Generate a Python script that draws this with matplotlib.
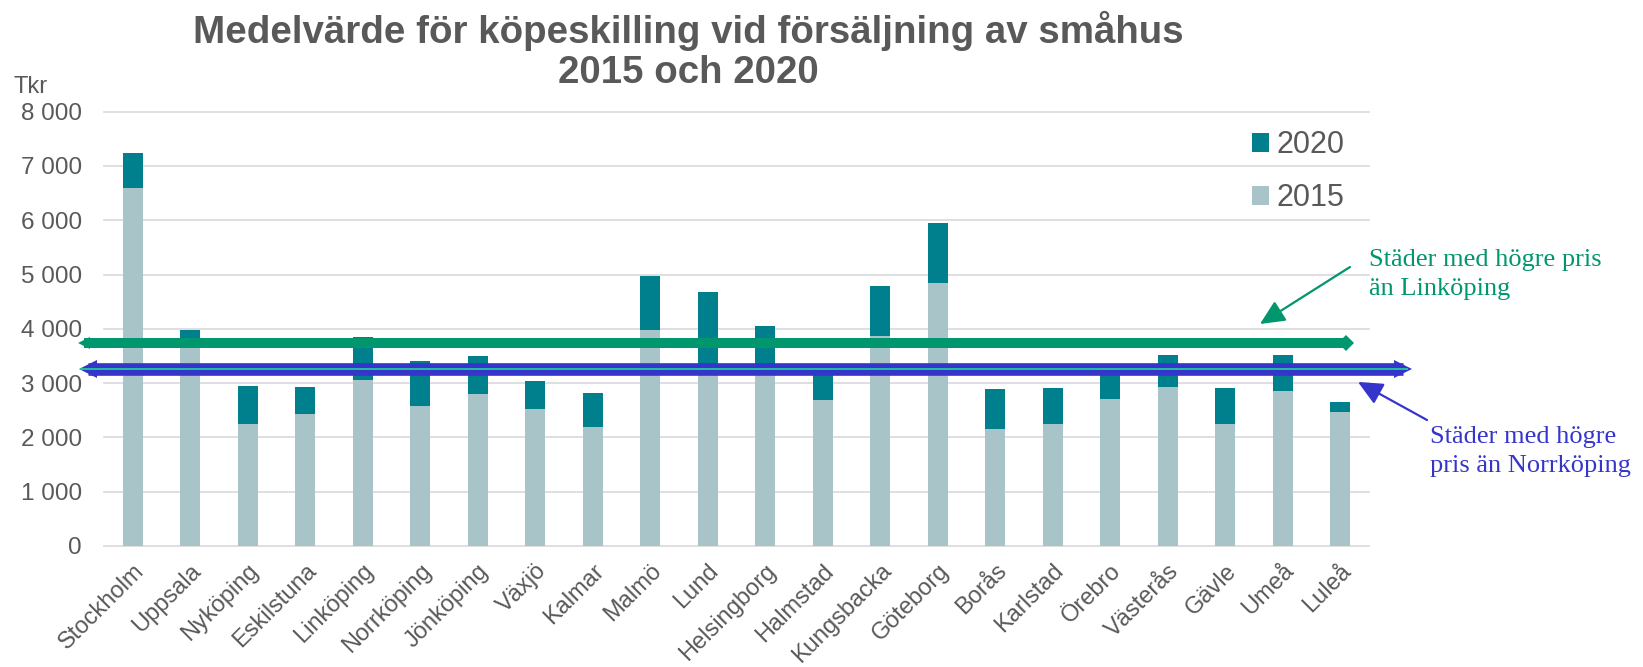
import matplotlib
matplotlib.use('Agg')
import matplotlib.pyplot as plt
import matplotlib.transforms as mtransforms
import numpy as np

# ---------------- data ----------------
cities = ['Stockholm', 'Uppsala', 'Nyköping', 'Eskilstuna', 'Linköping', 'Norrköping',
          'Jönköping', 'Växjö', 'Kalmar', 'Malmö', 'Lund', 'Helsingborg', 'Halmstad',
          'Kungsbacka', 'Göteborg', 'Borås', 'Karlstad', 'Örebro', 'Västerås', 'Gävle',
          'Umeå', 'Luleå']
price_2015 = [6594, 3750, 2241, 2437, 3058, 2585, 2806, 2530, 2192, 3985, 3280, 3280,
              2684, 3868, 4838, 2155, 2241, 2708, 2935, 2253, 2861, 2468]
price_2020 = [7245, 3973, 2947, 2929, 3844, 3408, 3500, 3039, 2818, 4967, 4679, 4058,
              3260, 4789, 5955, 2886, 2916, 3230, 3518, 2904, 3512, 2658]
yticks = [0, 1000, 2000, 3000, 4000, 5000, 6000, 7000, 8000]
ytick_labels = ['0', '1 000', '2 000', '3 000', '4 000', '5 000', '6 000', '7 000', '8 000']
linkoping_level = 3740
norrkoping_level = 3260

title = 'Medelvärde för köpeskilling vid försäljning av småhus\n2015 och 2020'
unit_label = 'Tkr'
note_green = 'Städer med högre pris\nän Linköping'
note_blue = 'Städer med högre\npris än Norrköping'

# ---------------- style ----------------
C2015 = '#A8C4C9'
C2020 = '#00808C'
GREEN = '#00966E'
BLUE = '#3535CC'
CYAN = '#1FC0A0'
GRAY = '#595959'
GRID = '#D9D9D9'

plt.rcParams['font.family'] = ['Liberation Sans', 'DejaVu Sans']

W, H = 1643, 667
fig = plt.figure(figsize=(W / 100, H / 100), dpi=100)
L, R, T, B = 104, 1369, 111.7, 546
ax = fig.add_axes([L / W, 1 - B / H, (R - L) / W, (B - T) / H])
axw = R - L

x = np.arange(len(cities))
p15 = np.array(price_2015)
p20 = np.array(price_2020)
b15 = ax.bar(x, p15, width=0.35, color=C2015, zorder=2, label='2015')
b20 = ax.bar(x, p20 - p15, bottom=p15, width=0.35, color=C2020, zorder=2, label='2020')

ax.set_xlim(-0.5, len(cities) - 0.5)
ax.set_ylim(0, 8000)
ax.set_yticks(yticks)
ax.set_yticklabels(ytick_labels, fontsize=17.5, color=GRAY)
ax.set_xticks(x)
ax.set_xticklabels(cities, rotation=45, ha='right', va='top', rotation_mode='anchor',
                   fontsize=17, color=GRAY)
ax.yaxis.grid(True, color=GRID, lw=1.2, zorder=0)
for gl in ax.get_ygridlines():
    gl.set_clip_on(False)
ax.set_axisbelow(True)
for s in ax.spines.values():
    s.set_visible(False)
ax.tick_params(axis='y', length=0, pad=16)
ax.tick_params(axis='x', length=0, pad=10)

# ---------------- horizontal reference arrows ----------------
trans = mtransforms.blended_transform_factory(ax.transAxes, ax.transData)

def fx(px):
    return (px - L) / axw

# green (Linköping)
gl0, gl1 = fx(84), fx(1346)
ax.plot([gl0, gl1], [linkoping_level] * 2, transform=trans, color=GREEN, lw=7.2,
        solid_capstyle='butt', clip_on=False, zorder=5)
ax.plot([gl0], [linkoping_level], transform=trans, marker='<', ms=9, color=GREEN,
        clip_on=False, zorder=5, mew=0)
ax.plot([gl1], [linkoping_level], transform=trans, marker='D', ms=8.5, color=GREEN,
        clip_on=False, zorder=5, mew=0)

# blue (Norrköping)
bl0, bl1 = fx(88), fx(1403)
ax.plot([bl0, bl1], [norrkoping_level] * 2, transform=trans, color=BLUE, lw=9.1,
        solid_capstyle='butt', clip_on=False, zorder=6)
ax.plot([bl0], [norrkoping_level], transform=trans, marker='<', ms=13.5, color=BLUE,
        clip_on=False, zorder=6, mew=0)
ax.plot([bl1], [norrkoping_level], transform=trans, marker='>', ms=13.5, color=BLUE,
        clip_on=False, zorder=6, mew=0)
ax.plot([fx(80), fx(1408)], [norrkoping_level] * 2, transform=trans, color=CYAN, lw=1.4,
        solid_capstyle='butt', clip_on=False, zorder=7)

# ---------------- legend ----------------
leg = ax.legend([b20, b15], ['2020', '2015'], fontsize=22, frameon=False,
                handlelength=0.58, handleheight=0.58, handletextpad=0.25,
                labelspacing=0.76, loc='upper right', borderpad=0, borderaxespad=0,
                bbox_to_anchor=(1345 / W, 1 - 130 / H), bbox_transform=fig.transFigure)
for t in leg.get_texts():
    t.set_color(GRAY)

# ---------------- texts ----------------
def ff(px, py):
    return (px / W, 1 - py / H)

# va='baseline' aligns the last line of multi-line text
fig.text(*ff(688.5, 82.7), title, ha='center', va='baseline', fontsize=27.7,
         weight='bold', color=GRAY, linespacing=1.13, multialignment='center')
fig.text(*ff(13, 92.7), unit_label, ha='left', va='baseline', fontsize=17, color=GRAY)

fig.text(*ff(1369, 294.5), note_green, ha='left', va='baseline', fontsize=19,
         color=GREEN, family='Liberation Serif', linespacing=1.4)
fig.text(*ff(1430, 472), note_blue, ha='left', va='baseline', fontsize=19,
         color=BLUE, family='Liberation Serif', linespacing=1.4)

ax.annotate('', xy=ff(1260, 324), xytext=ff(1350, 267), xycoords='figure fraction',
            textcoords='figure fraction',
            arrowprops=dict(arrowstyle='-|>,head_length=0.6,head_width=0.28', color=GREEN,
                            lw=1.6, mutation_scale=25, shrinkA=0, shrinkB=0))
ax.annotate('', xy=ff(1358, 382), xytext=ff(1427, 420), xycoords='figure fraction',
            textcoords='figure fraction',
            arrowprops=dict(arrowstyle='-|>,head_length=0.6,head_width=0.28', color=BLUE,
                            lw=1.6, mutation_scale=25, shrinkA=0, shrinkB=0))

fig.savefig('out.png', dpi=100)
